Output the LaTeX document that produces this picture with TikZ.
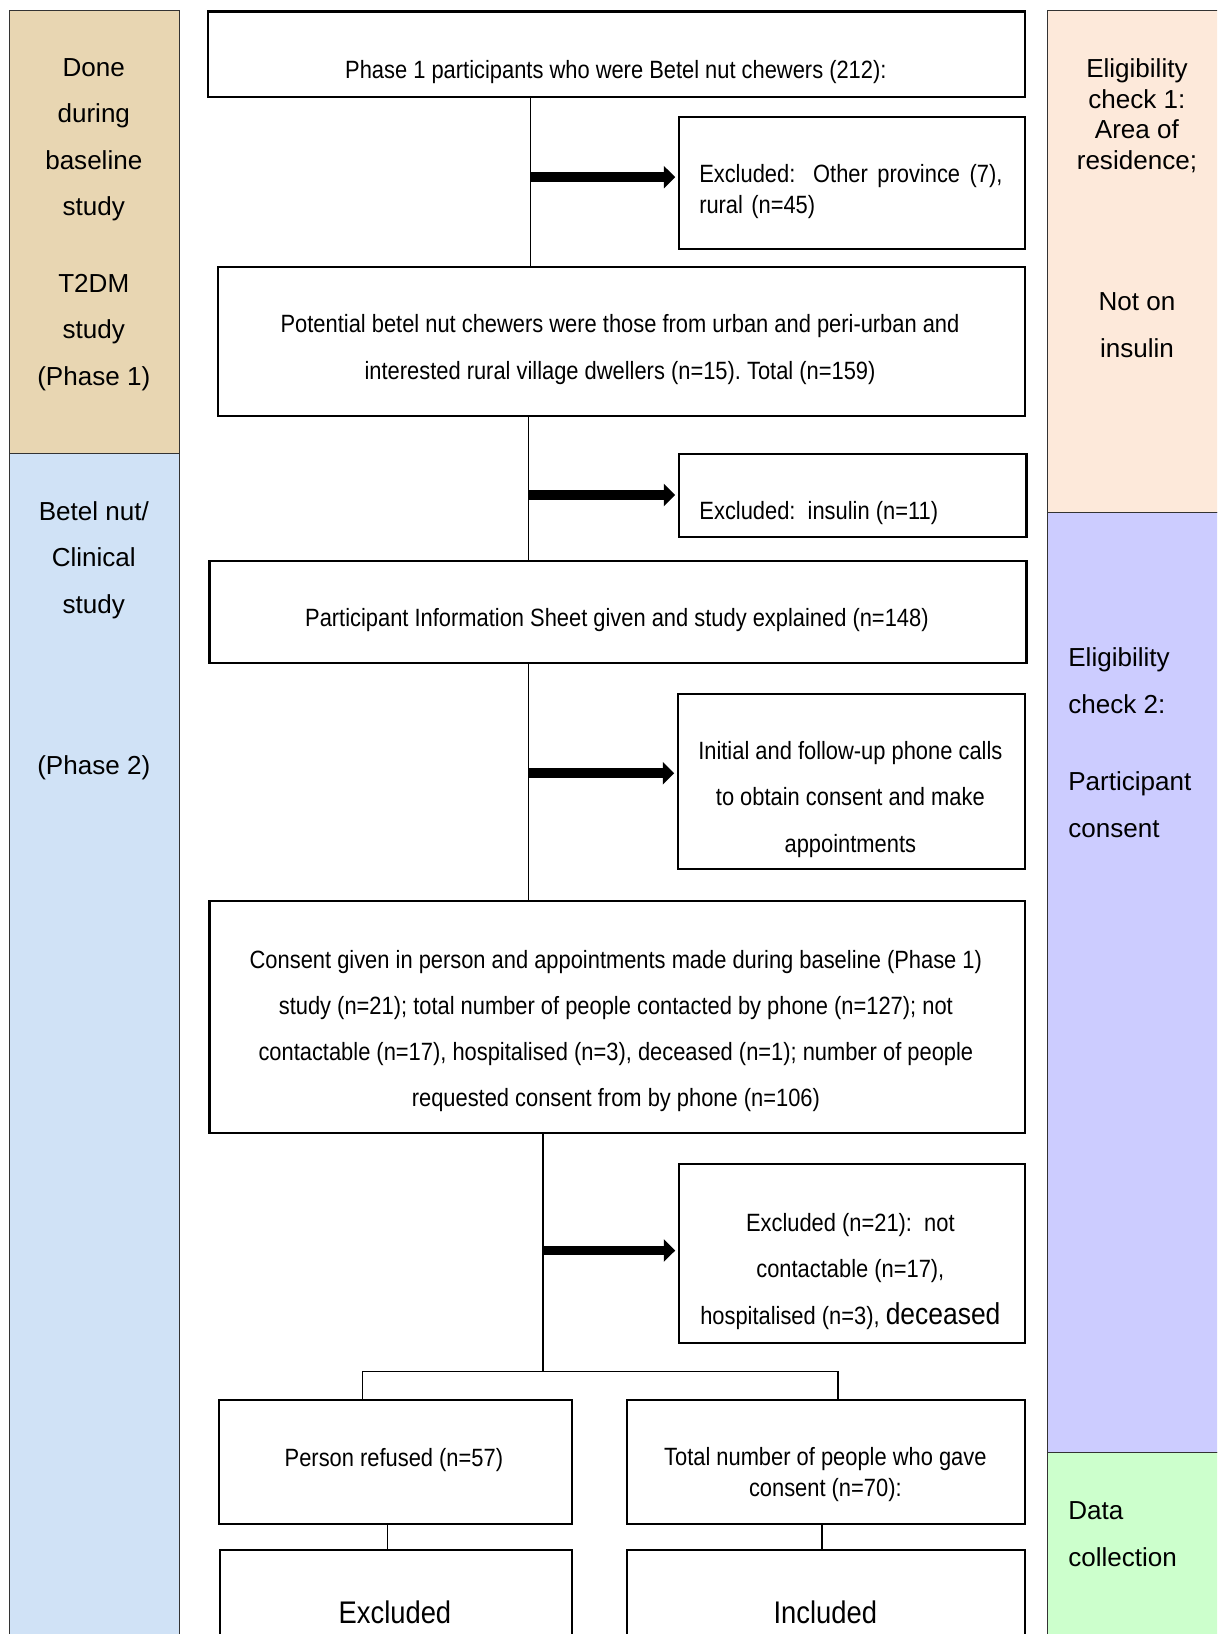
\documentclass[tikz,border=0pt]{standalone}
\usepackage{fontspec}
\setmainfont{Liberation Sans}
\newfontfamily\narrowf[FakeStretch=0.875]{Liberation Sans}
\usetikzlibrary{arrows.meta}
\definecolor{tanc}{RGB}{232,214,178}
\definecolor{bluec}{RGB}{208,226,246}
\definecolor{peachc}{RGB}{253,233,218}
\definecolor{lavc}{RGB}{204,204,255}
\definecolor{greenc}{RGB}{204,255,204}
\frenchspacing
\begin{document}
\begin{tikzpicture}[x=1pt,y=-1pt,
 box/.style={draw=black, line width=2pt, fill=white, anchor=north west, inner sep=0pt},
 panel/.style={draw=black!80, line width=1pt, anchor=north west, inner sep=0pt},
 mtxt/.style={font=\narrowf\fontsize{24}{44.5}\selectfont\frenchspacing, align=center, inner sep=0pt},
 mtxtb/.style={font=\narrowf\fontsize{24}{30}\selectfont\frenchspacing, inner sep=0pt},
 stxt/.style={font=\fontsize{25}{44.7}\selectfont, align=center, inner sep=0pt},
 conn/.style={line width=1.5pt},
 bigarrow/.style={line width=9.5pt, -{Triangle[length=11pt,width=21pt]}, shorten >=3pt},
]
\useasboundingbox (0,0) rectangle (1168,1568);
\clip (0,0) rectangle (1168,1568);

% side panels
\node[panel, fill=tanc, minimum width=163pt, minimum height=425pt] (lp1) at (9,10) {};
\node[panel, fill=bluec, minimum width=163pt, minimum height=1200pt] (lp2) at (9,435) {};
\node[panel, fill=peachc, minimum width=200pt, minimum height=481pt] (rp1) at (1005,10) {};
\node[panel, fill=lavc, minimum width=200pt, minimum height=902pt] (rp2) at (1005,491) {};
\node[panel, fill=greenc, minimum width=200pt, minimum height=300pt] (rp3) at (1005,1393) {};

\node[stxt] (la) at (90,134) {Done\\during\\baseline\\study};
\node[stxt] (lb) at (90,319) {T2DM\\study\\(Phase 1)};
\node[stxt] (lc) at (90,537.5) {Betel nut/\\Clinical\\study};
\node[stxt] (ld) at (90,736.5) {(Phase 2)};

\node[stxt, font=\fontsize{25}{29.5}\selectfont] (ra) at (1091,111) {Eligibility\\check 1:\\Area of\\residence;};
\node[stxt] (rb) at (1091,312) {Not on\\insulin};
\node[stxt, align=left, anchor=west] (rc) at (1025,653) {Eligibility\\check 2:};
\node[stxt, align=left, anchor=west] (rd) at (1025,772) {Participant\\consent};
\node[stxt, align=left, anchor=west] (re) at (1025,1472) {Data\\collection};

% main boxes
\node[box, minimum width=784pt, minimum height=82pt] (p1) at (199,10) {};
\node[box, minimum width=332pt, minimum height=127pt] (e1) at (651,111) {};
\node[box, minimum width=775pt, minimum height=143pt] (p2) at (208,255) {};
\node[box, minimum width=333pt, minimum height=79pt] (e2) at (651,435) {};
\node[box, minimum width=784pt, minimum height=98pt] (p3) at (200,537) {};
\node[box, minimum width=333pt, minimum height=168pt] (e3) at (650,665) {};
\node[box, minimum width=783pt, minimum height=222pt] (p5) at (200,864) {};
\node[box, minimum width=332pt, minimum height=172pt] (e4) at (651,1116) {};
\node[box, minimum width=339pt, minimum height=119pt] (rf) at (209,1342) {};
\node[box, minimum width=382pt, minimum height=119pt] (cs) at (601,1342) {};
\node[box, minimum width=338pt, minimum height=200pt] (ex) at (210,1486) {};
\node[box, minimum width=382pt, minimum height=200pt] (in) at (601,1486) {};

% texts
\node[mtxt] (t1) at (591,69) {Phase 1 participants who were Betel nut chewers (212):};
\node[mtxtb, align=left, text width=291pt] (te1) at (816.5,184) {\hbox to 291pt{Excluded:\hskip 0pt plus 1fil\ \ Other\hskip 0pt plus 1fil\ province\hskip 0pt plus 1fil\ (7),}\\rural (n=45)};
\node[mtxt] (t2) at (595,335.5) {Potential betel nut chewers were those from urban and peri-urban and\\interested rural village dwellers (n=15). Total (n=159)};
\node[mtxtb, anchor=west] (te2) at (671,492) {Excluded:\ \ insulin (n=11)};
\node[mtxt] (t3) at (592,595) {Participant Information Sheet given and study explained (n=148)};
\node[mtxt] (te3) at (816,767) {Initial and follow-up phone calls\\to obtain consent and make\\appointments};
\node[mtxt, font=\narrowf\fontsize{24}{44.3}\selectfont\frenchspacing] (t5) at (591,989.5) {Consent given in person and appointments made during baseline (Phase 1)\\study (n=21); total number of people contacted by phone (n=127); not\\contactable (n=17), hospitalised (n=3), deceased (n=1); number of people\\requested consent from by phone (n=106)};
\node[mtxt] (te4) at (816,1220) {Excluded (n=21):\ \ not\\contactable (n=17),\\hospitalised (n=3), {\fontsize{29}{44.5}\selectfont deceased}};
\node[mtxt] (trf) at (378,1401) {Person refused (n=57)};
\node[mtxtb, align=center] (tcs) at (792,1415) {Total number of people who gave\\consent (n=70):};
\node[mtxt, font=\narrowf\fontsize{30}{36}\selectfont] (tex) at (379,1547) {Excluded};
\node[mtxt, font=\narrowf\fontsize{30}{36}\selectfont] (tin) at (792,1547) {Included};

% connectors
\coordinate (v1) at (509,0);
\coordinate (v2) at (507,0);
\coordinate (v3) at (507,0);
\coordinate (v4) at (521,0);
\coordinate (v5) at (372,0);
\coordinate (v6) at (789,0);
\coordinate (a1) at (0,170);
\coordinate (a2) at (0,475);
\coordinate (a3) at (0,742);
\coordinate (a4) at (0,1200);
\coordinate (jL) at (348,1316);
\coordinate (jR) at (804,1316);

\draw[conn] (v1 |- p1.south) -- (v1 |- p2.north);
\draw[bigarrow] (v1 |- a1) -- (e1.west |- a1);
\draw[conn] (v2 |- p2.south) -- (v2 |- p3.north);
\draw[bigarrow] (v2 |- a2) -- (e2.west |- a2);
\draw[conn] (v3 |- p3.south) -- (v3 |- p5.north);
\draw[bigarrow] (v3 |- a3) -- (e3.west |- a3);
\draw[conn] (v4 |- p5.south) -- (v4 |- jL);
\draw[bigarrow] (v4 |- a4) -- (e4.west |- a4);
\draw[conn] (jL) -- (jR);
\draw[conn] (jL) -- (jL |- rf.north);
\draw[conn] (jR) -- (jR |- cs.north);
\draw[conn] (v5 |- rf.south) -- (v5 |- ex.north);
\draw[conn] (v6 |- cs.south) -- (v6 |- in.north);
\end{tikzpicture}
\end{document}
